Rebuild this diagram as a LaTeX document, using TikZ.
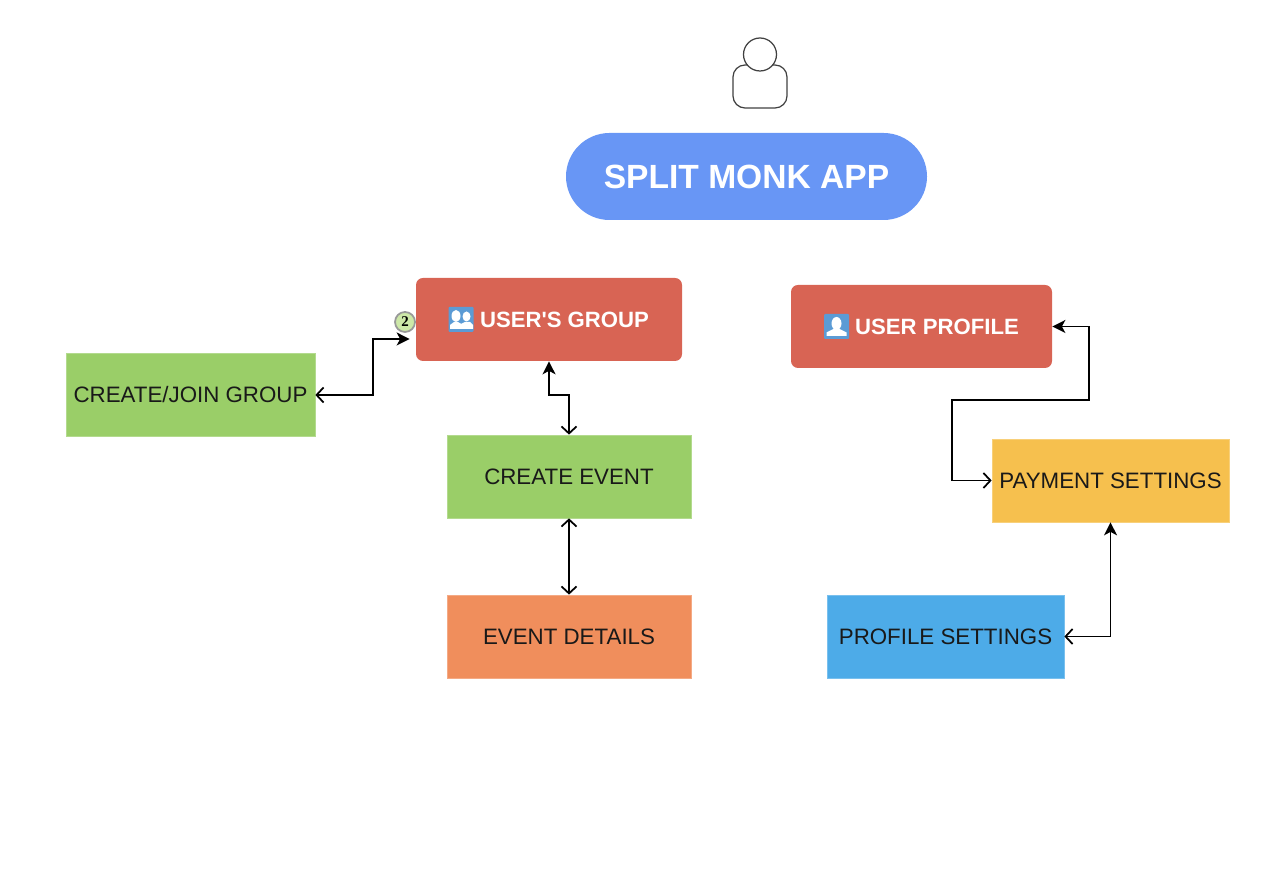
\documentclass[tikz,border=0pt]{standalone}
\usepackage{fontspec}
\setmainfont{Liberation Sans}
\newfontfamily\badgefont{Liberation Serif}
\usetikzlibrary{calc}
\usetikzlibrary{arrows.meta}
\definecolor{appblue}{HTML}{6896F5}
\definecolor{boxred}{HTML}{D86454}
\definecolor{boxgreen}{HTML}{9ACE68}
\definecolor{boxorange}{HTML}{F08E5C}
\definecolor{boxyellow}{HTML}{F6C04E}
\definecolor{boxblue}{HTML}{4DABE8}
\definecolor{iconblue}{HTML}{5B9BD5}
\definecolor{badgegreen}{HTML}{CDE8A8}
\tikzset{
	appbox/.style={rectangle, rounded corners=0.87cm, fill=appblue, text=white, minimum width=7.22cm, minimum height=1.74cm, font=\fontsize{19.1}{21}\selectfont\bfseries},
	menubox/.style={rectangle, rounded corners=0.14cm, fill=boxred, text=white, minimum height=1.66cm, font=\fontsize{12.6}{14}\selectfont\bfseries},
	pagebox/.style={rectangle, draw=#1!75!white, line width=0.4pt, fill=#1, text=black!90, inner xsep=0pt, minimum height=1.66cm, font=\fontsize{12.7}{15}\selectfont},
	iconbox/.style={rectangle, rounded corners=0.02cm, fill=iconblue, minimum size=0.5cm, inner sep=0pt},
	badge/.style={circle, draw=black!40, line width=1pt, fill=badgegreen, minimum size=0.4cm, inner sep=0pt, font=\fontsize{8.5}{9}\selectfont\bfseries\badgefont},
	opentip/.tip={Straight Barb[length=0.14cm, width=0.3cm, line width=1pt]},
	filledtip/.tip={Stealth[length=0.26cm, width=0.26cm, inset=0.07cm]},
	link/.style={opentip-filledtip, line width=1pt, black},
	openlink/.style={opentip-opentip, line width=1pt, black}
}
\begin{document}
\begin{tikzpicture}
	\useasboundingbox (0,0) rectangle (25.76,17.76);
	%\draw[help lines] (0,0) grid (25,17);

	\draw[black!75, line width=0.7pt, rounded corners=0.24cm] (14.66,15.6) rectangle (15.74,16.46);%body
	\draw[black!75, line width=0.7pt, fill=white] (15.2,16.67) circle (0.33);%head

	\node[appbox] (appbox) at (14.93,14.23) {SPLIT MONK APP};

	\node[menubox, minimum width=5.32cm] (groupbox) at (10.98,11.37) {\hspace*{0.62cm}USER\textquotesingle S GROUP};
	\node[menubox, minimum width=5.22cm] (profilebox) at (18.43,11.23) {\hspace*{0.62cm}USER PROFILE};

	\node[pagebox=boxgreen, minimum width=4.98cm] (joinbox) at (3.81,9.86) {CREATE/JOIN GROUP};
	\node[pagebox=boxgreen, minimum width=4.88cm] (eventbox) at (11.38,8.23) {CREATE EVENT};
	\node[pagebox=boxorange, minimum width=4.88cm] (detailbox) at (11.38,5.03) {EVENT DETAILS};
	\node[pagebox=boxyellow, minimum width=4.74cm] (paybox) at (22.21,8.15) {PAYMENT SETTINGS};
	\node[pagebox=boxblue, minimum width=4.74cm] (settingbox) at (18.91,5.03) {PROFILE SETTINGS};

	\node[badge] (groupbadge) at (8.1,11.32) {2};

	%group icon
	\node[iconbox] (groupicon) at ($(groupbox.center)+(-1.76,0)$) {};
	\fill[white] ($(groupicon.center)+(0.11,0.06)$) ellipse (0.08 and 0.1);
	\fill[white] ($(groupicon.center)+(-0.1,0.07)$) ellipse (0.09 and 0.12);
	\fill[white] ($(groupicon.center)+(-0.04,-0.19)$) -- ++(0,0.08) -- ++(0.12,0.06) -- ++(0.1,0) -- ++(0.06,-0.06) -- ++(0,-0.08) -- cycle;
	\fill[white] ($(groupicon.center)+(-0.22,-0.19)$) -- ++(0,0.08) -- ++(0.08,0.06) -- ++(0.08,0) -- ++(0.1,-0.06) -- ++(0,-0.08) -- cycle;

	%profile icon
	\node[iconbox] (profileicon) at ($(profilebox.center)+(-1.7,0)$) {};
	\fill[white] ($(profileicon.center)+(0,0.06)$) ellipse (0.1 and 0.13);
	\fill[white] ($(profileicon.center)+(-0.2,-0.19)$) -- ++(0,0.07) -- ++(0.14,0.07) -- ++(0.12,0) -- ++(0.14,-0.07) -- ++(0,-0.07) -- cycle;

	\coordinate (groupin) at ($(groupbox.west)+(-0.12,-0.39)$);

	\draw[link] (joinbox.east) -- ++(1.16,0) |- (groupin);
	\draw[link] (eventbox.north) -- ++(0,0.8) -| (groupbox.south);
	\draw[openlink] (eventbox.south) -- (detailbox.north);
	\draw[link] (paybox.west) -| (19.04,9.76) -- (21.78,9.76) |- (profilebox.east);
	\draw[link] (settingbox.east) -| (paybox.south);
\end{tikzpicture}
\end{document}
